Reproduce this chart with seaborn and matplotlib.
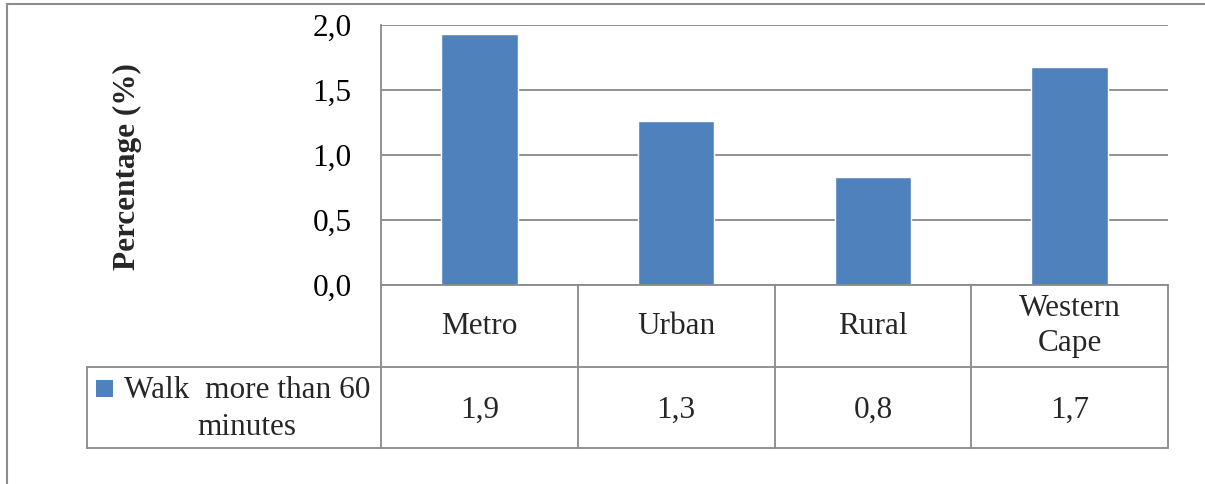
import matplotlib
matplotlib.use("Agg")
import matplotlib.pyplot as plt
from matplotlib.lines import Line2D
from matplotlib.patches import Rectangle
from matplotlib.ticker import FuncFormatter
import seaborn as sns

# Share of people who walk more than 60 minutes, by area
categories = ["Metro", "Urban", "Rural", "Western\nCape"]
values = [1.93, 1.26, 0.83, 1.68]
series_name = "Walk  more than 60\nminutes"
y_ticks = [0.0, 0.5, 1.0, 1.5, 2.0]

BAR = "#4F81BD"
GRID = "#898989"
FONT = 22.5

sns.set_theme(style="white")
plt.rcParams["font.family"] = ["Liberation Serif", "DejaVu Serif"]

W, H = 1205, 484
fig = plt.figure(figsize=(W / 100, H / 100), dpi=100)
fig.patch.set_facecolor("white")

# plot area in pixel terms
x0, x1, ytop, ybot = 381, 1168, 25, 285
ax = fig.add_axes([x0 / W, (H - ybot) / H, (x1 - x0) / W, (ybot - ytop) / H])

sns.barplot(x=categories, y=values, color=BAR, saturation=1, width=0.39, ax=ax)
ax.set_xlim(-0.5, len(categories) - 0.5)
ax.set_ylim(0, 2.0)
ax.set_yticks(y_ticks)
ax.yaxis.set_major_formatter(FuncFormatter(lambda v, _: f"{v:.1f}".replace(".", ",")))
ax.tick_params(axis="y", length=0, pad=21, labelsize=FONT, labelcolor="black")
ax.set_xticks([])
ax.set_xlabel("")
ax.yaxis.grid(True, color=GRID, lw=1.3)
ax.set_axisbelow(True)
for s in ["top", "right"]:
    ax.spines[s].set_visible(False)
for s in ["left", "bottom"]:
    ax.spines[s].set_color(GRID)
    ax.spines[s].set_linewidth(1.3)

ax.set_ylabel("Percentage (%)", fontsize=FONT, fontweight="bold", va="center")
ax.yaxis.set_label_coords((127 - x0) / (x1 - x0), (ybot - 167) / (ybot - ytop))

# data table below the axis
def fy(py):
    return (ybot - py) / (ybot - ytop)

def fx(px):
    return (px - x0) / (x1 - x0)

xt = ax.get_xaxis_transform()
row1, row2 = fy(367), fy(448)
lk = dict(color=GRID, lw=1.3, clip_on=False)
for i in range(len(categories) + 1):
    ax.add_line(Line2D([i - 0.5, i - 0.5], [0, row2], transform=xt, **lk))
ax.add_line(Line2D([fx(87), 1], [row1, row1], transform=ax.transAxes, **lk))
ax.add_line(Line2D([fx(87), 1], [row2, row2], transform=ax.transAxes, **lk))
ax.add_line(Line2D([fx(87), fx(87)], [row1, row2], transform=ax.transAxes, **lk))

for i, (cat, val) in enumerate(zip(categories, values)):
    ax.text(i, fy(326), cat, transform=xt, ha="center", va="center",
            fontsize=FONT, linespacing=1.3, clip_on=False)
    ax.text(i, fy(410), f"{val:.1f}".replace(".", ","), transform=xt,
            ha="center", va="center", fontsize=FONT, clip_on=False)

ax.add_patch(Rectangle((fx(96), fy(397)), 17 / (x1 - x0), 17 / (ybot - ytop),
                       transform=ax.transAxes, facecolor=BAR, edgecolor="none",
                       clip_on=False))
ax.text(fx(247), fy(409), series_name, transform=ax.transAxes, ha="center",
        va="center", multialignment="center", fontsize=FONT, linespacing=1.38,
        clip_on=False)

# outer chart frame
fk = dict(color="#8c8c8c", lw=1.5)
fig.add_artist(Line2D([7 / W, 7 / W], [0, 1 - 4 / H], transform=fig.transFigure, **fk))
fig.add_artist(Line2D([7 / W, 1], [1 - 4 / H, 1 - 4 / H], transform=fig.transFigure, **fk))

fig.savefig("out.png", dpi=100, facecolor="white")
